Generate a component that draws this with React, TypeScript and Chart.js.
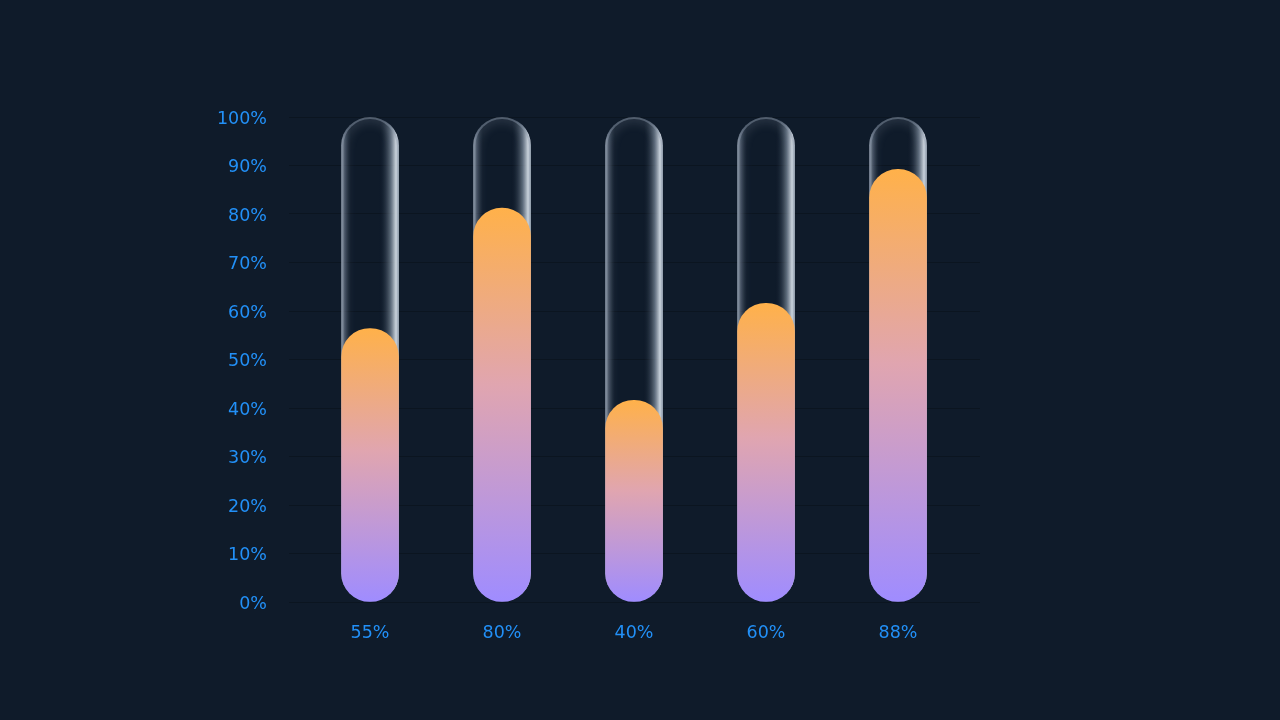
import { useEffect, useRef } from 'react';
import { Chart, registerables } from 'chart.js';

Chart.register(...registerables);

// category tick labels under each tube
const xLabels = ['55%', '80%', '40%', '60%', '88%'];
// filled part of each tube (%)
const fillValues = [56.4, 81.2, 41.6, 61.6, 89.2];
// empty glass tube behind each bar
const trackValues = [100, 100, 100, 100, 100];
const yTicks = [0, 10, 20, 30, 40, 50, 60, 70, 80, 90, 100];

const BG = '#0f1b2a';
const LABEL = '#2290f7';
const BAR_W = 57;

// soft inner glow on the glass tube (mostly shows on the top cap)
const tubeGlow = {
  id: 'tubeGlow',
  afterDatasetDraw(chart: Chart, args: { index: number }) {
    if (args.index !== 0) return;
    const { ctx } = chart;
    chart.getDatasetMeta(0).data.forEach((el: any) => {
      const w = el.width;
      const left = el.x - w / 2;
      const top = Math.min(el.y, el.base);
      const h = Math.abs(el.base - el.y);
      ctx.save();
      ctx.beginPath();
      ctx.roundRect(left, top, w, h, w / 2);
      ctx.clip();
      ctx.shadowColor = 'rgba(170,182,198,1)';
      ctx.shadowBlur = 12;
      ctx.strokeStyle = 'rgba(140,152,170,0.45)';
      ctx.lineWidth = 4;
      ctx.stroke();
      ctx.restore();
    });
  },
};

export default function App() {
  const canvasRef = useRef<HTMLCanvasElement>(null);
  const chartRef  = useRef<Chart | null>(null);

  useEffect(() => {
    if (!canvasRef.current) return;
    if (chartRef.current) { chartRef.current.destroy(); chartRef.current = null; }

    Chart.defaults.font.family = "'DejaVu Sans', sans-serif";

    const trackFill = (c: any) => {
      const { chart, dataIndex } = c;
      if (!chart.chartArea) return 'transparent';
      const cx = chart.scales.x.getPixelForValue(dataIndex);
      const g = chart.ctx.createLinearGradient(cx - BAR_W / 2, 0, cx + BAR_W / 2, 0);
      g.addColorStop(0,    'rgba(175,186,200,0.70)');
      g.addColorStop(0.07, 'rgba(110,125,145,0.40)');
      g.addColorStop(0.18, 'rgba(15,27,42,0)');
      g.addColorStop(0.66, 'rgba(15,27,42,0)');
      g.addColorStop(0.86, 'rgba(150,165,182,0.55)');
      g.addColorStop(0.96, 'rgba(225,232,240,0.95)');
      g.addColorStop(1,    'rgba(205,214,225,0.85)');
      return g;
    };

    const barFill = (c: any) => {
      const { chart, dataIndex } = c;
      if (!chart.chartArea) return '#ffb14a';
      const y = chart.scales.y;
      const g = chart.ctx.createLinearGradient(0, y.getPixelForValue(fillValues[dataIndex]), 0, y.getPixelForValue(0));
      g.addColorStop(0, '#ffb14a');
      g.addColorStop(0.45, '#e0a5b0');
      g.addColorStop(1, '#9f8cff');
      return g;
    };

    chartRef.current = new Chart(canvasRef.current, {
      type: 'bar',
      data: {
        datasets: [
          {
            data: trackValues.map((v, i) => ({ x: i, y: v })),
            backgroundColor: trackFill,
            borderRadius: 40,
            borderSkipped: false,
            barThickness: BAR_W,
            grouped: false,
            order: 2,
          },
          {
            data: fillValues.map((v, i) => ({ x: i, y: v })),
            backgroundColor: barFill,
            borderRadius: 40,
            borderSkipped: false,
            barThickness: BAR_W,
            grouped: false,
            order: 1,
          },
        ],
      },
      options: {
        animation: false,
        responsive: true,
        maintainAspectRatio: false,
        layout: { padding: { top: 117, right: 300, left: 0, bottom: 0 } },
        plugins: { legend: { display: false }, tooltip: { enabled: false } },
        scales: {
          x: {
            type: 'linear',
            offset: false,
            min: -0.614,
            max: 4.621,
            grid: { display: false, drawTicks: false },
            border: { display: false },
            afterFit: (s: any) => { s.height = 118; },
            afterBuildTicks: (s: any) => { s.ticks = xLabels.map((_, i) => ({ value: i })); },
            ticks: {
              color: LABEL,
              font: { size: 17.5 },
              padding: 21,
              autoSkip: false,
              maxRotation: 0,
              callback: (v: any) => xLabels[v] ?? '',
            },
          },
          y: {
            min: 0,
            max: 100,
            grid: { color: 'rgba(0,0,0,0.22)', drawTicks: false },
            border: { display: false },
            afterFit: (s: any) => { s.width = 289; },
            afterBuildTicks: (s: any) => { s.ticks = yTicks.map(v => ({ value: v })); },
            ticks: {
              color: LABEL,
              font: { size: 17.5 },
              padding: 22,
              labelOffset: 2,
              callback: (v: any) => `${v}%`,
            },
          },
        },
      },
      plugins: [tubeGlow],
    } as any);

    return () => { chartRef.current?.destroy(); chartRef.current = null; };
  }, []);

  return (
    <div style={{ position: 'fixed', inset: 0, background: BG }}>
      <canvas ref={canvasRef} role="img" aria-label="Progress tubes" />
    </div>
  );
}
